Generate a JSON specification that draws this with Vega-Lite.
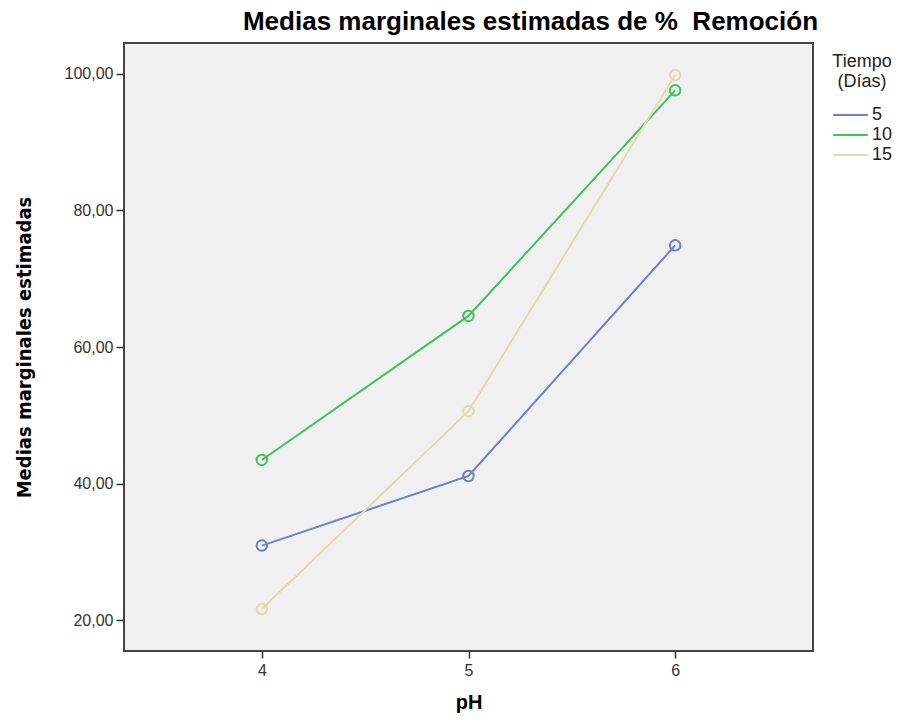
{
  "$schema": "https://vega.github.io/schema/vega-lite/v6.json",
  "width": 689,
  "height": 608,
  "autosize": {"type": "none"},
  "padding": {"left": 124, "top": 43, "right": 91, "bottom": 69},
  "background": "white",
  "title": {
    "text": "Medias marginales estimadas de %\u00a0\u00a0Remoción",
    "font": "Liberation Sans",
    "fontSize": 26,
    "fontWeight": "bold",
    "color": "#000000",
    "anchor": "middle",
    "frame": "group",
    "dx": 62,
    "offset": 8
  },
  "data": {
    "values": [
      {"pH": 4, "Tiempo": "5", "media": 30.9},
      {"pH": 5, "Tiempo": "5", "media": 41.1},
      {"pH": 6, "Tiempo": "5", "media": 74.9},
      {"pH": 4, "Tiempo": "10", "media": 43.45},
      {"pH": 5, "Tiempo": "10", "media": 64.55},
      {"pH": 6, "Tiempo": "10", "media": 97.6},
      {"pH": 4, "Tiempo": "15", "media": 21.6},
      {"pH": 5, "Tiempo": "15", "media": 50.6},
      {"pH": 6, "Tiempo": "15", "media": 99.85}
    ]
  },
  "encoding": {
    "x": {
      "field": "pH",
      "type": "quantitative",
      "scale": {"domain": [3.333, 6.667], "nice": false, "zero": false},
      "axis": {
        "title": "pH",
        "values": [4, 5, 6],
        "format": "d",
        "grid": false,
        "domain": false,
        "tickColor": "#333333",
        "tickSize": 7,
        "tickWidth": 1.5,
        "labelFont": "Liberation Sans",
        "labelFontSize": 16,
        "labelColor": "#333333",
        "labelPadding": 4,
        "titleFont": "Liberation Sans",
        "titleFontSize": 20,
        "titleFontWeight": "bold",
        "titleColor": "#000000",
        "titlePadding": 14
      }
    },
    "y": {
      "field": "media",
      "type": "quantitative",
      "scale": {"domain": [15.46, 104.54], "nice": false, "zero": false},
      "axis": {
        "title": "Medias marginales estimadas",
        "values": [20, 40, 60, 80, 100],
        "labelExpr": "replace(format(datum.value, '.2f'), '.', ',')",
        "grid": false,
        "domain": false,
        "tickColor": "#333333",
        "tickSize": 8,
        "tickWidth": 1.5,
        "labelFont": "Liberation Sans",
        "labelFontSize": 16,
        "labelColor": "#333333",
        "labelPadding": 3,
        "titleFont": "DejaVu Sans Condensed",
        "titleFontSize": 20,
        "titleFontWeight": "bold",
        "titleColor": "#000000",
        "titlePadding": 30
      }
    },
    "color": {
      "field": "Tiempo",
      "type": "nominal",
      "scale": {
        "domain": ["5", "10", "15"],
        "range": ["#6d80c9", "#3cc458", "#e0dba8"]
      }
    }
  },
  "layer": [
    {
      "mark": {"type": "line", "strokeWidth": 2},
      "encoding": {
        "color": {
          "field": "Tiempo",
          "type": "nominal",
          "scale": {
            "domain": ["5", "10", "15"],
            "range": ["#6d80c9", "#3cc458", "#e0dba8"]
          },
          "legend": {
            "title": ["Tiempo", "(Días)"],
            "orient": "none",
            "legendX": 708,
            "legendY": 10,
            "symbolType": "stroke",
            "symbolSize": 1200,
            "symbolStrokeWidth": 2,
            "clipHeight": 20,
            "titleFont": "Liberation Sans",
            "titleFontSize": 18,
            "titleFontWeight": "normal",
            "titleColor": "#222222",
            "titleAlign": "center",
            "titleAnchor": "middle",
            "titleLineHeight": 20,
            "titlePadding": 14,
            "labelFont": "Liberation Sans",
            "labelFontSize": 18,
            "labelColor": "#222222",
            "labelOffset": 3,
            "rowPadding": 0
          }
        }
      }
    },
    {
      "mark": {"type": "point", "shape": "circle", "filled": false, "size": 110, "strokeWidth": 2, "opacity": 1},
      "encoding": {
        "color": {
          "field": "Tiempo",
          "type": "nominal",
          "legend": null
        }
      }
    }
  ],
  "config": {
    "view": {"fill": "#f0f0f0", "stroke": "#444444", "strokeWidth": 2}
  }
}
